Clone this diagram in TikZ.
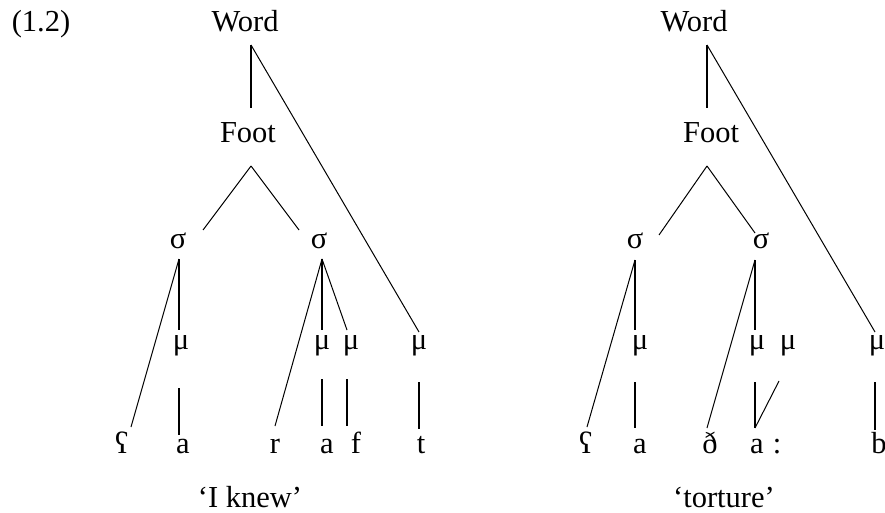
\documentclass[tikz,border=0pt]{standalone}
\usepackage{fontspec}
\setmainfont{Liberation Serif}
\begin{document}
\begin{tikzpicture}[x=1pt,y=-1pt,
  lbl/.style={anchor=base,inner sep=0pt,font=\fontsize{30.5}{36}\selectfont},
  vline/.style={line width=1.9pt},
  dline/.style={line width=1pt}]
\useasboundingbox (0,0) rectangle (885,513);
% ---------- left tree ----------
\node[lbl] (ex) at (41,32) {(1.2)};
\node[lbl] (Lw) at (245,32) {Word};
\node[lbl] (Lf) at (248,143) {Foot};
\node[lbl] (Ls1) at (178,248) {σ};
\node[lbl] (Ls2) at (319,248) {σ};
\node[lbl] (Lm1) at (181,349) {μ};
\node[lbl] (Lm2) at (322,349) {μ};
\node[lbl] (Lm3) at (351,349) {μ};
\node[lbl] (Lm4) at (419,349) {μ};
\node[lbl] (Lc1) at (122,453) {ʕ};
\node[lbl] (Lc2) at (183,453) {a};
\node[lbl] (Lc3) at (275,453) {r};
\node[lbl] (Lc4) at (327,453) {a};
\node[lbl] (Lc5) at (356,453) {f};
\node[lbl] (Lc6) at (421,453) {t};
\node[lbl] (Lg) at (250,507) {‘I knew’};
% anchor points
\coordinate (Lwb) at (251,45);
\coordinate (Lft) at (251,108);
\coordinate (Lfb) at (251,166);
\coordinate (Ls1t) at (203,230);
\coordinate (Ls2t) at (299,230);
\coordinate (Ls1b) at (179,259);
\coordinate (Ls2b) at (322,259);
\coordinate (Lm1t) at (179,330);
\coordinate (Lm2t) at (322,330);
\coordinate (Lm3t) at (347,330);
\coordinate (Lm4t) at (419,332);
\coordinate (Lm1b) at (179,388);
\coordinate (Lm2b) at (322,379);
\coordinate (Lm3b) at (347,379);
\coordinate (Lm4b) at (419,382);
\coordinate (Lc1t) at (131,427);
\coordinate (Lc2t) at (179,435);
\coordinate (Lc3t) at (275,426);
\coordinate (Lc4t) at (322,426);
\coordinate (Lc5t) at (347,426);
\coordinate (Lc6t) at (419,429);
\draw[vline] (Lwb) -- (Lft);
\draw[dline] (Lwb) -- (Lm4t);
\draw[dline] (Lfb) -- (Ls1t);
\draw[dline] (Lfb) -- (Ls2t);
\draw[vline] (Ls1b) -- (Lm1t);
\draw[dline] (Ls1b) -- (Lc1t);
\draw[vline] (Lm1b) -- (Lc2t);
\draw[vline] (Ls2b) -- (Lm2t);
\draw[dline] (Ls2b) -- (Lc3t);
\draw[dline] (Ls2b) -- (Lm3t);
\draw[vline] (Lm2b) -- (Lc4t);
\draw[vline] (Lm3b) -- (Lc5t);
\draw[vline] (Lm4b) -- (Lc6t);
% ---------- right tree ----------
\node[lbl] (Rw) at (694,32) {Word};
\node[lbl] (Rf) at (711,143) {Foot};
\node[lbl] (Rs1) at (635,248) {σ};
\node[lbl] (Rs2) at (761,248) {σ};
\node[lbl] (Rm1) at (640,349) {μ};
\node[lbl] (Rm2) at (757,349) {μ};
\node[lbl] (Rm3) at (788,349) {μ};
\node[lbl] (Rm4) at (877,349) {μ};
\node[lbl] (Rc1) at (586,453) {ʕ};
\node[lbl] (Rc2) at (640,453) {a};
\node[lbl] (Rc3) at (710,453) {ð};
\node[lbl] (Rc4) at (757,453) {a};
\node[lbl] (Rc5) at (777,453) {:};
\node[lbl] (Rc6) at (879,453) {b};
\node[lbl] (Rg) at (724,507) {‘torture’};
\coordinate (Rwb) at (707,45);
\coordinate (Rft) at (707,108);
\coordinate (Rfb) at (707,166);
\coordinate (Rs1t) at (659,235);
\coordinate (Rs2t) at (755,233);
\coordinate (Rs1b) at (635,260);
\coordinate (Rs2b) at (755,260);
\coordinate (Rm1t) at (635,330);
\coordinate (Rm2t) at (755,330);
\coordinate (Rm4t) at (875,332);
\coordinate (Rm1b) at (635,382);
\coordinate (Rm2b) at (755,382);
\coordinate (Rm3b) at (779,381);
\coordinate (Rm4b) at (875,382);
\coordinate (Rc1t) at (587,427);
\coordinate (Rc2t) at (635,428);
\coordinate (Rc3t) at (707,428);
\coordinate (Rc4t) at (755,428);
\coordinate (Rc6t) at (875,430);
\draw[vline] (Rwb) -- (Rft);
\draw[dline] (Rwb) -- (Rm4t);
\draw[dline] (Rfb) -- (Rs1t);
\draw[dline] (Rfb) -- (Rs2t);
\draw[vline] (Rs1b) -- (Rm1t);
\draw[dline] (Rs1b) -- (Rc1t);
\draw[vline] (Rm1b) -- (Rc2t);
\draw[vline] (Rs2b) -- (Rm2t);
\draw[dline] (Rs2b) -- (Rc3t);
\draw[vline] (Rm2b) -- (Rc4t);
\draw[dline] (Rm3b) -- (Rc4t);
\draw[vline] (Rm4b) -- (Rc6t);
\end{tikzpicture}
\end{document}
